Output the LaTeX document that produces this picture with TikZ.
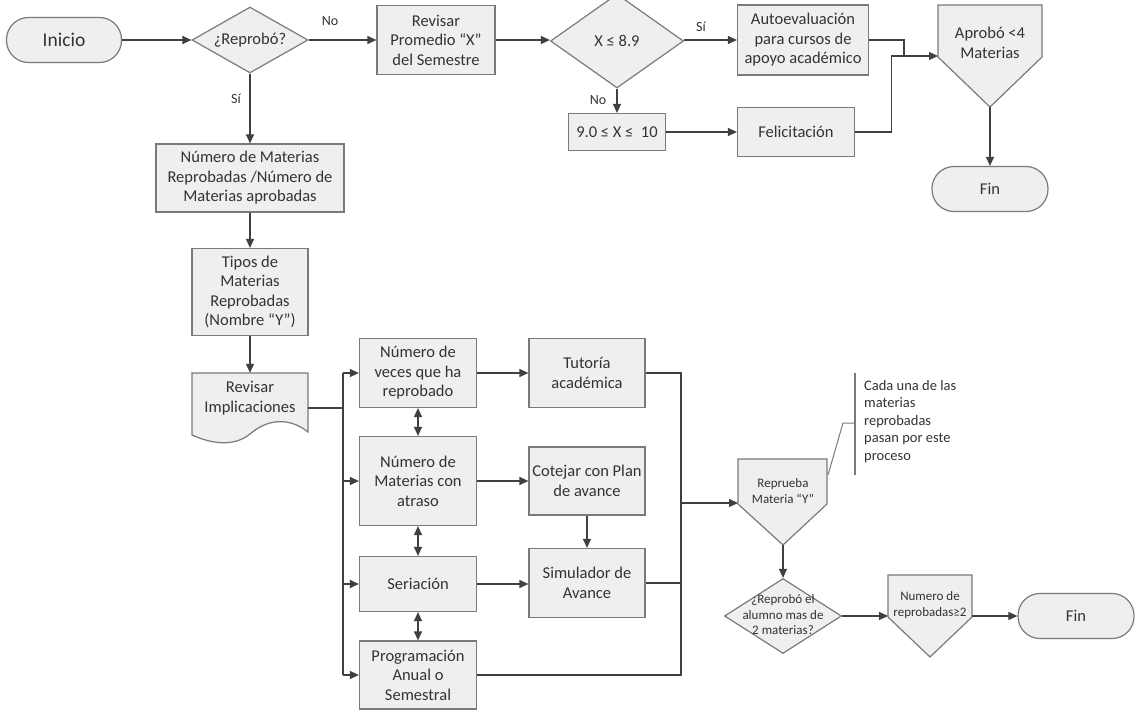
\documentclass[tikz,border=0pt]{standalone}
\usepackage{fontspec}
\setmainfont{Carlito}
\usetikzlibrary{arrows.meta,shapes.geometric,calc}
\definecolor{fillg}{HTML}{EFEFEF}
\definecolor{edge}{HTML}{7A7A7A}
\definecolor{lncol}{HTML}{404040}
\definecolor{txtc}{HTML}{333333}
\begin{document}
\begin{tikzpicture}[x=1pt,y=-1pt,
  box/.style={draw=edge, fill=fillg, line width=1.2pt, inner sep=0pt, align=center, text=txtc, font=\fontsize{16.5}{19.5}\selectfont},
  term/.style={box, rounded corners=22pt},
  dia/.style={draw=edge, fill=fillg, diamond, inner sep=0pt, line width=1.2pt},
  shp/.style={draw=edge, fill=fillg, line width=1.2pt},
  tx/.style={align=center, text=txtc, inner sep=0pt, font=\fontsize{16.5}{19.5}\selectfont},
  sm/.style={align=center, text=txtc, inner sep=0pt, font=\fontsize{13}{15.5}\selectfont},
  arr/.style={draw=lncol, line width=1.2pt, -{Triangle[length=9pt,width=8pt]}},
  darr/.style={draw=lncol, line width=1.2pt, {Triangle[length=9pt,width=8pt]}-{Triangle[length=9pt,width=8pt]}},
  ln/.style={draw=lncol, line width=1.2pt},
  lbl/.style={text=txtc, inner sep=0pt, font=\fontsize{14}{16}\selectfont},
]
\useasboundingbox (0,0) rectangle (1144,717);
\fill[white] (0,0) rectangle (1144,717);

% ---------- top row ----------
\node[term, minimum width=115pt, minimum height=45pt, font=\fontsize{19.5}{22}\selectfont] (start) at (64,40) {Inicio};
\node[dia, minimum width=116pt, minimum height=66pt] (d1) at (250,40) {};
\node[tx] (d1t) at (d1) {¿Reprobó?};
\node[box, minimum width=118pt, minimum height=69pt] (rp) at (436,40) {Revisar\\Promedio “X”\\del Semestre};
\begin{scope}
\clip (0,0) rectangle (1144,717);
\node[dia, minimum width=133pt, minimum height=94pt] (d2) at (617,41) {};
\end{scope}
\node[tx] (d2t) at (617,41) {X ≤ 8.9};
\node[box, minimum width=131pt, minimum height=70pt] (auto) at (803,40) {Autoevaluación\\para cursos de\\apoyo académico};
\node[box, minimum width=97pt, minimum height=37pt] (rng) at (617,132) {9.0 ≤ X ≤ \ 10};
\node[box, minimum width=117pt, minimum height=49pt] (fel) at (796,132) {Felicitación};

\draw[shp] (938,5) -- (1042,5) -- (1042,57) -- (990,107) -- (938,57) -- cycle;
\node[tx] (apt) at (990,43) {Aprobó <4\\Materias};
\coordinate (apin) at (938,56);
\coordinate (apout) at (990,107);
\node[term, minimum width=116pt, minimum height=45pt] (fin1) at (990,189) {Fin};

\draw[arr] (start) -- (d1);
\draw[arr] (d1) -- (rp);
\draw[arr] (rp) -- (d2.west |- rp.east);
\draw[arr] (d2.east |- auto.west) -- (auto);
\draw[arr] (d2.south) -- (rng);
\draw[arr] (rng) -- (fel);
\coordinate (j1) at (904,56);
\draw[ln] (auto.east) -| (j1);
\draw[arr] (fel.east) -- ++(36,0) |- (apin);
\draw[arr] (apout) -- (fin1);

\node[lbl] (lno1) at (330,21) {No};
\node[lbl] (lsi1) at (236,99) {Sí};
\node[lbl] (lsi2) at (701,27) {Sí};
\node[lbl] (lno2) at (598,100) {No};

% ---------- left column ----------
\node[box, minimum width=188pt, minimum height=68pt] (nm) at (250,178) {Número de Materias\\Reprobadas /Número de\\Materias aprobadas};
\node[box, minimum width=116pt, minimum height=87pt] (tipos) at (250,292) {Tipos de\\Materias\\Reprobadas\\(Nombre “Y”)};
\node[minimum width=116pt, minimum height=60pt, inner sep=0pt] (rev) at (250,403) {};
\draw[shp] (192,373) -- (308,373) -- (308,432)
  .. controls (288,416) and (266,420) .. (250,434)
  .. controls (234,447) and (212,444) .. (192,435) -- cycle;
\node[tx] (revt) at (250,398) {Revisar\\Implicaciones};

\draw[arr] (d1.south) -- (nm);
\draw[arr] (nm) -- (tipos);
\draw[arr] (tipos) -- (rev.north);

% ---------- middle ----------
\node[box, minimum width=117pt, minimum height=69pt] (nv) at (418,373) {Número de\\veces que ha\\reprobado};
\node[box, minimum width=117pt, minimum height=89pt] (na) at (418,481) {Número de\\Materias con\\atraso};
\node[box, minimum width=117pt, minimum height=55pt] (ser) at (418,584) {Seriación};
\node[box, minimum width=117pt, minimum height=68pt] (pa) at (418,675) {Programación\\Anual o\\Semestral};

\node[box, minimum width=116pt, minimum height=69pt] (tut) at (587,373) {Tutoría\\académica};
\node[box, minimum width=116pt, minimum height=68pt] (cot) at (587,481) {Cotejar con Plan\\de avance};
\node[box, minimum width=116pt, minimum height=69pt] (sim) at (587,583) {Simulador de\\Avance};

\coordinate (bus) at (343,0);
\coordinate (revE) at (308,408);
\draw[ln] (revE) -- (revE -| bus);
\draw[ln] (nv.west -| bus) -- (pa.west -| bus);
\draw[arr] (nv.west -| bus) -- (nv.west);
\draw[arr] (na.west -| bus) -- (na.west);
\draw[arr] (ser.west -| bus) -- (ser.west);
\draw[arr] (pa.west -| bus) -- (pa.west);

\draw[darr] (nv.south) -- (na.north);
\draw[darr] (na.south) -- (ser.north);
\draw[darr] (ser.south) -- (pa.north);

\draw[arr] (nv) -- (tut);
\draw[arr] (na) -- (cot);
\draw[arr] (ser.east) -- (sim.west |- ser.east);
\draw[arr] (cot) -- (sim);

\coordinate (rbus) at (681,0);
\draw[ln] (tut.east) -- (tut.east -| rbus) -- (pa.east -| rbus) -- (pa.east);
\draw[ln] (sim.east) -- (sim.east -| rbus);

% ---------- right lower ----------
\draw[shp] (738,459) -- (827,459) -- (827,504) -- (783,545) -- (738,504) -- cycle;
\node[sm] (rmt) at (783,491) {Reprueba\\Materia “Y”};
\coordinate (rmin) at (738,503);
\coordinate (rmout) at (783,545);
\coordinate (rmcorner) at (828,475);
\draw[arr] (rmin -| rbus) -- (rmin);

\coordinate (brT) at (855,373);
\coordinate (brB) at (855,475);
\coordinate (brM) at (855,423);
\draw[ln, draw=edge] (brT) -- (brB);
\draw[ln, draw=edge, line width=1pt] (rmcorner) -- (843,423) -- (brM);
\node[anchor=north west, align=left, text=txtc, inner sep=0pt, font=\fontsize{14.5}{17.5}\selectfont] (note) at (864,380) {Cada una de las\\materias\\reprobadas\\pasan por este\\proceso};

\node[dia, minimum width=117pt, minimum height=75pt] (d3) at (783,616) {};
\node[sm] (d3t) at (783,615) {¿Reprobó el\\alumno mas de\\2 materias?};
\draw[arr] (rmout) -- (d3.north);

\draw[shp] (888,575) -- (972,575) -- (972,617) -- (930,657) -- (888,617) -- cycle;
\node[sm] (nrt) at (930,605) {Numero de\\reprobadas≥2};
\coordinate (nrin) at (888,616);
\coordinate (nrout) at (972,616);
\draw[arr] (d3.east) -- (nrin);

\node[term, minimum width=116pt, minimum height=45pt] (fin2) at (1076,616) {Fin};
\draw[arr] (nrout) -- (fin2.west);
\end{tikzpicture}
\end{document}
